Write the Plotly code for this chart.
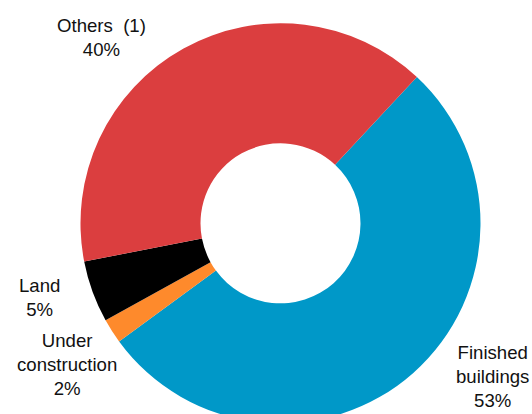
import plotly.graph_objects as go

labels = ["Finished<br>buildings", "Under<br>construction", "Land", "Others  (1)"]
values = [53, 2, 5, 40]
colors = ["#0098c8", "#fe8a2c", "#000000", "#db3e3f"]

# label anchors in paper coordinates (x, y)
label_pos = [(0.9258, 0.112), (0.126, 0.1415), (0.0742, 0.2983), (0.1917, 0.9104)]

fig = go.Figure(
    go.Pie(
        labels=labels,
        values=values,
        hole=0.4,
        sort=False,
        direction="clockwise",
        rotation=43,
        marker=dict(colors=colors, line=dict(width=0)),
        textinfo="none",
        hoverinfo="label+percent",
        domain=dict(x=[0.1513, 0.9032], y=[0.0, 0.9465]),
        showlegend=False,
    )
)

total = sum(values)
for lab, val, (x, y) in zip(labels, values, label_pos):
    fig.add_annotation(
        x=x,
        y=y,
        xref="paper",
        yref="paper",
        text=f"{lab}<br>{round(100 * val / total)}%",
        showarrow=False,
        xanchor="center",
        yanchor="middle",
        font=dict(size=18.6, color="#111111", family="Liberation Sans, Arial, sans-serif"),
    )

# the ring runs past the bottom edge of the window, so the figure is a bit taller
fig.update_layout(
    width=532,
    height=424,
    margin=dict(l=0, r=0, t=0, b=0),
    paper_bgcolor="white",
    plot_bgcolor="white",
)

fig.write_html(
    "out.html",
    config={"displayModeBar": False},
    post_script="document.body.style.margin='0';document.body.style.overflow='hidden';",
)
